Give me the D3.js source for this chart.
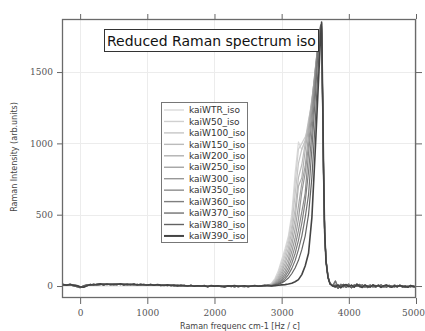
<!DOCTYPE html>
<html><head><meta charset="utf-8">
<script src="https://cdn.jsdelivr.net/npm/d3@7"></script>
<style>html,body{margin:0;padding:0;background:#fff;}svg{display:block;}</style>
</head><body>
<svg id="chart" width="425" height="331"></svg>
<script>
// ---------- data ----------
const seriesNames = ["kaiWTR_iso","kaiW50_iso","kaiW100_iso","kaiW150_iso","kaiW200_iso","kaiW250_iso",
  "kaiW300_iso","kaiW350_iso","kaiW360_iso","kaiW370_iso","kaiW380_iso","kaiW390_iso"];
const xTicks = [0,1000,2000,3000,4000,5000];
const yTicks = [0,500,1000,1500];
const titleText = "Reduced Raman spectrum iso";
const xTitle = "Raman frequenc cm-1 [Hz / c]";
const yTitle = "Raman Intensity (arb.units)";

// baseline region (x in cm-1)
const xBase = [-270,-250,-200,-150,-100,-50,0,50,100,150,200,250,300,350,400,450,500,550,600,650,700,750,800,850,900,950,
  1000,1050,1100,1150,1200,1250,1300,1350,1400,1450,1500,1550,1600,1650,1700,1750,1800,1850,1900,1950,
  2000,2050,2100,2150,2200,2250,2300,2350,2400,2450,2500,2550,2600,2650,2700,2750,2800];
const baseA = [6,8,10,6,4,0,-8,-4,5,8,10,9,12,11,13,12,14,12,13,11,12,10,11,9,10,8,
  9,7,8,6,7,5,6,4,5,3,4,2,3,1,2,0,2,-2,1,-1,
  0,-3,1,-2,0,-4,1,-1,-3,0,-2,1,-1,2,0,3,4];
const baseB = [10,4,7,9,1,-4,-12,2,9,4,14,6,9,15,9,16,10,15,9,14,8,13,7,12,6,11,
  5,10,4,9,3,8,2,7,1,6,0,5,-1,4,-2,3,-3,4,-4,2,
  -2,1,-5,2,-3,1,-6,2,-2,-4,1,-3,2,-1,3,1,6];
const baseC = [3,11,5,12,6,3,-5,-9,1,11,7,12,15,8,14,9,12,10,16,8,13,9,14,7,12,9,
  7,11,5,10,6,4,8,3,6,1,5,3,0,4,-1,2,0,1,-5,3,
  -1,2,-2,-6,1,-1,3,-4,0,2,-5,0,3,-2,1,5,2];

// band region
const xPeak = [2850,2900,2950,3000,3050,3100,3150,3200,3250,3300,3350,3400,3450,3500,3530,3560,3580,3595,3610,3625,3640,3660,3690,3720,3760];
const peakValues = [
  [20,52,108,185,262,352,505,790,1010,955,1015,1085,1240,1410,1570,1670,1745,1690,1200,700,380,190,70,20,5],
  [16,44,92,165,240,330,470,720,960,1000,1045,1110,1230,1460,1575,1705,1760,1720,1220,720,390,190,70,20,4],
  [12,36,78,140,215,300,420,640,860,960,1020,1165,1280,1490,1610,1715,1770,1740,1240,730,380,180,65,18,4],
  [10,30,64,118,185,265,380,540,760,850,1000,1140,1310,1495,1625,1735,1780,1760,1260,740,380,180,65,18,3],
  [8,25,52,98,158,228,330,470,700,760,950,1110,1300,1515,1640,1740,1790,1770,1270,750,380,180,65,18,3],
  [7,20,42,80,130,192,285,400,560,720,840,1060,1285,1520,1655,1750,1800,1780,1280,750,380,180,65,17,3],
  [5,16,34,64,105,160,240,335,470,660,790,990,1225,1505,1650,1760,1810,1790,1290,760,380,180,64,17,2],
  [4,13,27,50,84,130,195,280,390,520,650,930,1165,1460,1640,1760,1820,1800,1300,760,380,180,64,16,2],
  [3,10,21,40,66,104,158,228,320,440,590,800,1075,1400,1610,1750,1830,1810,1310,760,380,175,62,16,2],
  [2,8,16,30,50,80,122,178,255,350,480,640,960,1320,1560,1730,1830,1820,1320,770,380,175,62,15,1],
  [1,6,12,22,36,56,86,126,180,255,350,500,760,1150,1420,1660,1810,1840,1330,770,380,175,60,15,1],
  [0,3,5,8,10,14,20,30,45,80,140,230,480,950,1250,1550,1750,1850,1350,780,380,175,60,15,0]
];

// tail region
const xTail = [3800,3840,3880,3920,3960,4000,4040,4080,4120,4160,4200,4240,4280,4320,4360,4400,4440,4480,4520,4560,
  4600,4640,4680,4720,4760,4800,4840,4880,4920,4960,5000];
const tailA = [35,-10,12,-6,3,14,-10,0,7,-5,9,-9,2,6,-7,4,-3,9,-8,0,3,-6,7,-2,4,-8,2,-5,0,-7,-3];
const tailB = [6,-16,4,12,-9,2,-13,8,-3,11,-6,3,-11,4,1,-8,7,-4,3,-9,5,0,-7,4,-3,1,-10,0,-6,2,-8];
const tailC = [-6,7,-12,3,10,-4,6,-8,13,-2,-10,7,-3,-7,8,-2,4,-10,2,7,-4,-8,2,-6,5,-4,-2,-9,4,-3,-6];

const lineColors = ["#dadada","#d0d0d0","#c6c6c6","#bbbbbb","#b0b0b0","#a4a4a4",
  "#989898","#8c8c8c","#7f7f7f","#727272","#626262","#444444"];
const baseSets = [baseA, baseB, baseC];
const tailSets = [tailA, tailB, tailC];

// ---------- chart ----------
const svg = d3.select("#chart");
const L = 62, R = 416, T = 19, B = 298;
const x = d3.scaleLinear().domain([-270, 5000]).range([L, R]);
const y = d3.scaleLinear().domain([-84, 1872]).range([B, T]);

// grid
const grid = svg.append("g").attr("stroke", "#ececec").attr("stroke-width", 1);
grid.selectAll(".gx").data(xTicks).join("line")
  .attr("x1", d => Math.round(x(d)) + 0.5).attr("x2", d => Math.round(x(d)) + 0.5)
  .attr("y1", T).attr("y2", B);
grid.selectAll(".gy").data(yTicks).join("line")
  .attr("y1", d => Math.round(y(d)) + 0.5).attr("y2", d => Math.round(y(d)) + 0.5)
  .attr("x1", L).attr("x2", R);

// build series from the arrays
const series = seriesNames.map((name, i) => {
  const b = baseSets[i % 3], t = tailSets[i % 3];
  const pts = [];
  xBase.forEach((xv, j) => pts.push([xv, b[j]]));
  xPeak.forEach((xv, j) => pts.push([xv, peakValues[i][j]]));
  xTail.forEach((xv, j) => pts.push([xv, t[j]]));
  return { name, color: lineColors[i], pts };
});

svg.append("clipPath").attr("id", "clip").append("rect")
  .attr("x", L).attr("y", T).attr("width", R - L).attr("height", B - T);

const line = d3.line().x(d => x(d[0])).y(d => y(d[1]));
svg.append("g").attr("clip-path", "url(#clip)")
  .selectAll("path").data(series).join("path")
  .attr("d", d => line(d.pts))
  .attr("fill", "none")
  .attr("stroke", d => d.color)
  .attr("stroke-width", (d, i) => i === 11 ? 1.6 : 1.2)
  .attr("stroke-linejoin", "round");

// axes
const fmt = d3.format("d");
function styleAxis(g) {
  g.select(".domain").remove();
  g.selectAll(".tick line").attr("stroke", "#666");
  g.selectAll(".tick text").attr("fill", "#555")
    .style("font-family", "'DejaVu Serif', 'Liberation Serif', serif").style("font-size", "9px");
}
const xb = svg.append("g").attr("transform", `translate(0,${B})`)
  .call(d3.axisBottom(x).tickValues(xTicks).tickFormat(fmt).tickSize(6).tickPadding(6)).call(styleAxis);
xb.selectAll(".tick text").filter(d => d === 5000).attr("text-anchor", "end").attr("x", 8.5);
svg.append("g").attr("transform", `translate(0,${T})`)
  .call(d3.axisTop(x).tickValues(xTicks).tickFormat("").tickSize(5)).call(styleAxis);
svg.append("g").attr("transform", `translate(${L},0)`)
  .call(d3.axisLeft(y).tickValues(yTicks).tickFormat(fmt).tickSize(5).tickPadding(4)).call(styleAxis);
svg.append("g").attr("transform", `translate(${R},0)`)
  .call(d3.axisRight(y).tickValues(yTicks).tickFormat("").tickSize(6)).call(styleAxis);

// frame
svg.append("rect").attr("x", L + 0.5).attr("y", T + 0.5).attr("width", R - L - 1).attr("height", B - T - 1)
  .attr("fill", "none").attr("stroke", "#6a6a6a").attr("stroke-width", 1.3);

// axis titles
svg.append("text").attr("transform", "translate(17,157) rotate(-90)")
  .attr("text-anchor", "middle").attr("fill", "#444")
  .style("font-family", "'DejaVu Sans', sans-serif").style("font-size", "8px").text(yTitle);
svg.append("text").attr("x", 240).attr("y", 329)
  .attr("text-anchor", "middle").attr("fill", "#444")
  .style("font-family", "'DejaVu Sans', sans-serif").style("font-size", "8px").text(xTitle);

// title box
const tb = svg.append("g");
tb.append("rect").attr("x", 104.5).attr("y", 29.5).attr("width", 214).attr("height", 22)
  .attr("fill", "#fff").attr("stroke", "#333").attr("stroke-width", 1);
const tt = tb.append("text").attr("x", 107).attr("y", 46).attr("fill", "#111")
  .style("font-family", "'DejaVu Sans', sans-serif").style("font-size", "15px").text(titleText);
const tw = tt.node().getComputedTextLength();
tt.style("font-size", (15 * 209 / tw).toFixed(2) + "px");

// legend
const lg = svg.append("g");
lg.append("rect").attr("x", 161.5).attr("y", 102.5).attr("width", 86).attr("height", 140)
  .attr("fill", "#fff").attr("stroke", "#777").attr("stroke-width", 1);
const rows = lg.selectAll(".row").data(series).join("g")
  .attr("transform", (d, i) => `translate(0,${110 + i * 11.45})`);
rows.append("line").attr("x1", 164).attr("x2", 184).attr("y1", 0).attr("y2", 0)
  .attr("stroke", d => d.color).attr("stroke-width", (d, i) => i === 11 ? 2 : 1.4);
rows.append("text").attr("x", 189).attr("y", 3.2).attr("fill", "#333")
  .style("font-family", "'DejaVu Sans', sans-serif").style("font-size", "9px").text(d => d.name);
</script>
</body></html>
